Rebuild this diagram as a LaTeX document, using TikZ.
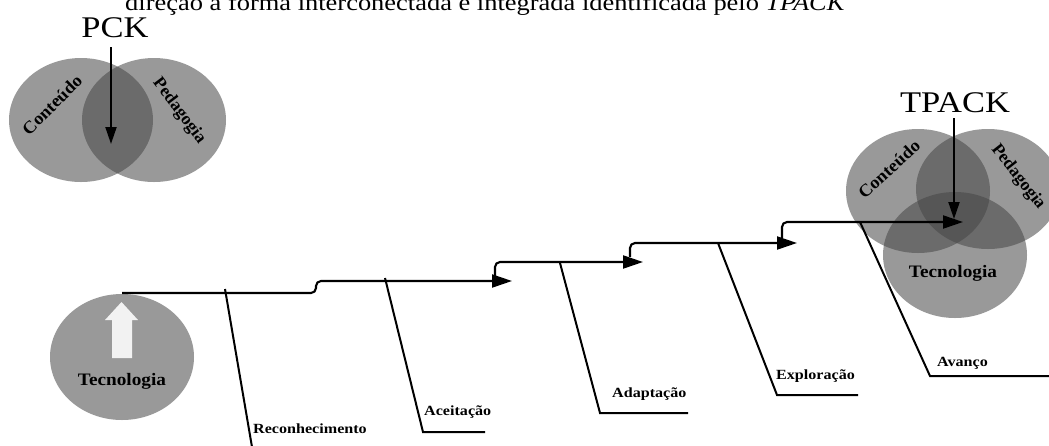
\documentclass[tikz,border=0pt]{standalone}
\usepackage{fontspec}
\setmainfont{Liberation Serif}
\usetikzlibrary{arrows.meta}
\definecolor{vg}{RGB}{70,70,70}
\definecolor{warrow}{RGB}{242,242,242}
\newcommand\hstretch[2][1.15]{\scalebox{#1}[1]{#2}}
\tikzset{
  venn/.style={fill=vg, fill opacity=0.55, draw=none},
  flow/.style={line width=2.1pt, rounded corners=5pt, -{Triangle[length=20pt,width=13pt]}},
  downarrow/.style={line width=2pt, -{Triangle[length=17pt,width=11pt]}},
  slant/.style={line width=2pt},
  steplabel/.style={font=\fontsize{14}{16}\selectfont\bfseries, anchor=base west, inner sep=0pt},
  circlabel/.style={font=\fontsize{17.5}{20}\selectfont\bfseries, inner sep=0pt},
  biglabel/.style={font=\fontsize{30}{34}\selectfont, inner sep=0pt, anchor=base},
}
\begin{document}
\begin{tikzpicture}[x=1pt,y=-1pt]
\fill[white] (0,0) rectangle (1049,445);
\useasboundingbox (0,0) rectangle (1049,445);

% top caption line (cut by the upper edge)
\node[font=\fontsize{23}{27}\selectfont, anchor=base west, inner sep=0pt] (caption) at (125,10.5)
  {\hstretch[1.15]{direção à forma interconectada e integrada identificada pelo \textit{TPACK}}};

% ---------- PCK ----------
\fill[venn] (81,120) ellipse [x radius=72, y radius=62];
\fill[venn] (154,120) ellipse [x radius=72, y radius=62];
\node[circlabel, rotate=45] (pckC) at (52,105) {\hstretch[1.05]{Conteúdo}};
\node[circlabel, rotate=-53] (pckP) at (179,111) {Pedagogia};
\node[biglabel] (pck) at (115,37) {\hstretch{PCK}};
\coordinate (pcktop) at (111,47);
\coordinate (pckend) at (111,144);
\draw[downarrow] (pcktop) -- (pckend);

% ---------- Tecnologia (left) ----------
\fill[venn] (122,357) ellipse [x radius=72, y radius=63];
\fill[warrow] (112,358) -- (112,320) -- (105,320) -- (121.5,302) -- (138,320) -- (132,320) -- (132,358) -- cycle;
\node[circlabel, anchor=base] (tecL) at (122,385) {\hstretch[1.1]{Tecnologia}};

% ---------- TPACK ----------
\fill[venn] (918,191) ellipse [x radius=72, y radius=62];
\fill[venn] (988,189) ellipse [x radius=72, y radius=60];
\fill[venn] (955,255) ellipse [x radius=72, y radius=63];
\node[circlabel, rotate=42] (tpC) at (889,169) {\hstretch[1.05]{Conteúdo}};
\node[circlabel, rotate=-52] (tpP) at (1018,177) {Pedagogia};
\node[circlabel, anchor=base] (tecR) at (953,277) {\hstretch[1.1]{Tecnologia}};
\node[biglabel] (tpack) at (955,112) {\hstretch{TPACK}};
\coordinate (tptop) at (954,118);
\coordinate (tpend) at (954,219);
\draw[downarrow] (tptop) -- (tpend);

% ---------- staircase flow ----------
\coordinate (s0) at (122,293);
\coordinate (s1a) at (316,293);
\coordinate (s1b) at (316,281);
\coordinate (e1) at (512,281);
\draw[flow] (s0) -- (s1a) -- (s1b) -- (e1);

\coordinate (h2a) at (495,278);
\coordinate (h2b) at (495,262);
\coordinate (e2) at (643,262);
\draw[flow] (h2a) -- (h2b) -- (e2);

\coordinate (h3a) at (630,257);
\coordinate (h3b) at (630,243);
\coordinate (e3) at (797,243);
\draw[flow] (h3a) -- (h3b) -- (e3);

\coordinate (h4a) at (782,238);
\coordinate (h4b) at (782,222);
\coordinate (e4) at (963,222);
\draw[flow] (h4a) -- (h4b) -- (e4);

% ---------- stage branches ----------
\coordinate (b1t) at (225,289);
\coordinate (b1b) at (252,447);
\draw[slant] (b1t) -- (b1b);
\node[steplabel] (reco) at (253,433) {\hstretch{Reconhecimento}};

\coordinate (b2t) at (385,278);
\coordinate (b2b) at (423,432);
\coordinate (b2e) at (485,432);
\draw[slant] (b2t) -- (b2b) -- (b2e);
\node[steplabel] (acei) at (424,415) {\hstretch{Aceitação}};

\coordinate (b3t) at (560,263);
\coordinate (b3b) at (600,413);
\coordinate (b3e) at (688,413);
\draw[slant] (b3t) -- (b3b) -- (b3e);
\node[steplabel] (adap) at (612,397) {\hstretch{Adaptação}};

\coordinate (b4t) at (718,243);
\coordinate (b4b) at (777,395);
\coordinate (b4e) at (858,395);
\draw[slant] (b4t) -- (b4b) -- (b4e);
\node[steplabel] (expl) at (776,379) {\hstretch{Exploração}};

\coordinate (b5t) at (860,222);
\coordinate (b5b) at (930,376);
\coordinate (b5e) at (1049,376);
\draw[slant] (b5t) -- (b5b) -- (b5e);
\node[steplabel] (avan) at (937,366) {\hstretch{Avanço}};
\end{tikzpicture}
\end{document}
